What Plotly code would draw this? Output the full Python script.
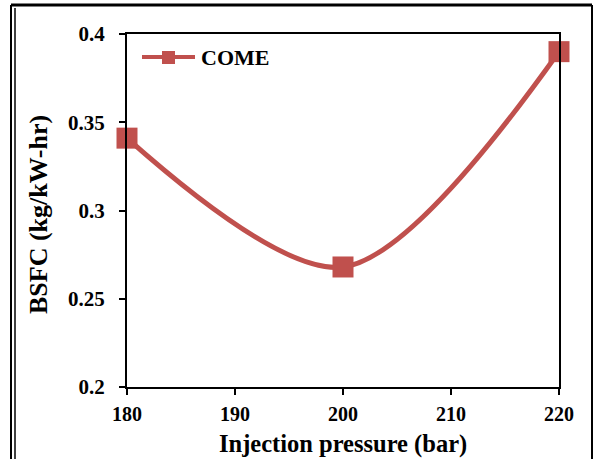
import plotly.graph_objects as go

pressure = [180, 200, 220]
bsfc = [0.341, 0.268, 0.390]
series_name = "COME"
x_ticks = [180, 190, 200, 210, 220]
x_tick_labels = ["180", "190", "200", "210", "220"]
y_ticks = [0.2, 0.25, 0.3, 0.35, 0.4]
y_tick_labels = ["0.2", "0.25", "0.3", "0.35", "0.4"]
x_title = "Injection pressure (bar)"
y_title = "BSFC (kg/kW-hr)"

W, H = 595, 459
L, R, T, B = 127, 36, 34, 72
PW, PH = W - L - R, H - T - B

def px(x):
    return (x - L) / PW

def py(y):
    return 1 - (y - T) / PH

red = "#C0504D"
font = "Liberation Serif"

fig = go.Figure()
fig.add_trace(go.Scatter(
    x=pressure, y=bsfc, name=series_name, mode="lines+markers",
    line=dict(color=red, width=5, shape="spline", smoothing=0.9),
    marker=dict(symbol="square", size=21, color=red),
    cliponaxis=False, showlegend=False,
))

axis_common = dict(
    showline=True, linecolor="black", linewidth=2, mirror=True,
    ticks="outside", ticklen=6, tickwidth=2, tickcolor="black",
    showgrid=False, zeroline=False,
)

fig.update_layout(
    width=W, height=H,
    margin=dict(l=L, r=R, t=T, b=B),
    paper_bgcolor="white", plot_bgcolor="white",
    xaxis=dict(range=[180, 220], tickvals=x_ticks,
               ticktext=["<b>%s</b>" % t for t in x_tick_labels],
               ticklabelstandoff=2,
               tickfont=dict(family=font, size=20, color="black"),
               **axis_common),
    yaxis=dict(range=[0.2, 0.4], tickvals=y_ticks,
               ticktext=["<b>%s</b>" % t for t in y_tick_labels],
               ticklabelstandoff=10,
               tickfont=dict(family=font, size=21, color="black"),
               **axis_common),
)

fig.add_annotation(text="<b>%s</b>" % x_title, xref="paper", yref="paper",
                   x=px(343), y=py(444), xanchor="center", yanchor="middle",
                   showarrow=False,
                   font=dict(family=font, size=24.5, color="black"))
fig.add_annotation(text="<b>%s</b>" % y_title, xref="paper", yref="paper",
                   x=px(39), y=py(215), xanchor="center", yanchor="middle",
                   showarrow=False, textangle=-90,
                   font=dict(family=font, size=26, color="black"))

# legend key (drawn manually to match the original's long key line)
fig.add_shape(type="line", xref="paper", yref="paper",
              x0=px(142), y0=py(57), x1=px(195), y1=py(57),
              line=dict(color=red, width=4))
fig.add_shape(type="rect", xref="paper", yref="paper",
              x0=px(162), y0=py(51), x1=px(175), y1=py(64),
              line=dict(width=0), fillcolor=red)
fig.add_annotation(text="<b>%s</b>" % series_name, xref="paper", yref="paper",
                   x=px(199), y=py(58), xanchor="left", yanchor="middle",
                   showarrow=False,
                   font=dict(family=font, size=22, color="black"))

# outer page frame
frame = [
    (11, 5, 592, 5, 3),
    (11, 5, 11, 470, 2),
    (15, 8, 15, 470, 1.5),
    (592, 5, 592, 470, 2),
]
for x0, y0, x1, y1, w in frame:
    fig.add_shape(type="line", xref="paper", yref="paper",
                  x0=px(x0), y0=py(y0), x1=px(x1), y1=py(y1),
                  line=dict(color="black", width=w))

fig.write_html("out.html")
